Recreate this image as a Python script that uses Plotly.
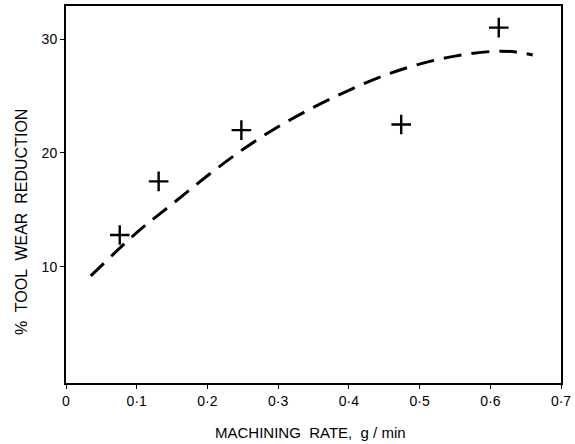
import plotly.graph_objects as go

# Measured data points (+)
pts_x = [0.076, 0.131, 0.248, 0.474, 0.612]
pts_y = [12.8, 17.5, 22.0, 22.5, 31.0]

# Dashed fitted curve
curve_x = [0.035, 0.1, 0.15, 0.2, 0.25, 0.3, 0.35, 0.4, 0.45, 0.5, 0.55, 0.6, 0.63, 0.66]
curve_y = [9.2, 13.0, 15.5, 18.0, 20.3, 22.3, 24.0, 25.5, 26.8, 27.8, 28.5, 28.9, 28.9, 28.6]

x_ticks = [0, 0.1, 0.2, 0.3, 0.4, 0.5, 0.6, 0.7]
x_tick_text = ["0", "0·1", "0·2", "0·3", "0·4", "0·5", "0·6", "0·7"]
y_ticks = [10, 20, 30]
y_tick_text = ["10", "20", "30"]

font_family = "Liberation Sans, Arial, sans-serif"

L, R, T, B = 66, 14, 6, 61
W, H = 575, 444
pw, ph = W - L - R, H - T - B

fig = go.Figure()
fig.add_trace(go.Scatter(
    x=curve_x, y=curve_y, mode="lines", line_shape="spline",
    line=dict(color="black", width=3, dash="18px,10px"),
    showlegend=False, hoverinfo="skip"))
fig.add_trace(go.Scatter(
    x=pts_x, y=pts_y, mode="markers",
    marker=dict(symbol="cross-thin", size=14, line=dict(color="black", width=2.4)),
    showlegend=False))

fig.update_layout(
    width=W, height=H,
    margin=dict(l=L, r=R, t=T, b=B),
    paper_bgcolor="white", plot_bgcolor="white",
    font=dict(family=font_family, color="black", size=14),
    xaxis=dict(range=[0, 0.7], tickvals=x_ticks, ticktext=x_tick_text,
               showgrid=False, zeroline=False, showline=True, mirror=True,
               linecolor="black", linewidth=2, ticks="outside", ticklen=4,
               tickcolor="black", tickfont=dict(size=14), automargin=False),
    yaxis=dict(range=[-0.2, 32.9], tickvals=y_ticks, ticktext=y_tick_text,
               showgrid=False, zeroline=False, showline=True, mirror=True,
               linecolor="black", linewidth=2, ticks="outside", ticklen=4,
               tickcolor="black", tickfont=dict(size=14), automargin=False),
    annotations=[
        dict(text="%  TOOL  WEAR  REDUCTION", textangle=-90,
             xref="paper", yref="paper", x=(22 - L) / pw, y=(H - B - 222) / ph,
             xanchor="center", yanchor="middle", showarrow=False,
             font=dict(size=16, family=font_family)),
        dict(text="MACHINING  RATE,  g / min",
             xref="paper", yref="paper", x=(310 - L) / pw, y=(H - B - 432) / ph,
             xanchor="center", yanchor="middle", showarrow=False,
             font=dict(size=15, family=font_family)),
    ],
)

fig.write_html(
    "out.html",
    config={"displayModeBar": False},
    post_script="document.body.style.margin='0';document.body.style.overflow='hidden';",
)
